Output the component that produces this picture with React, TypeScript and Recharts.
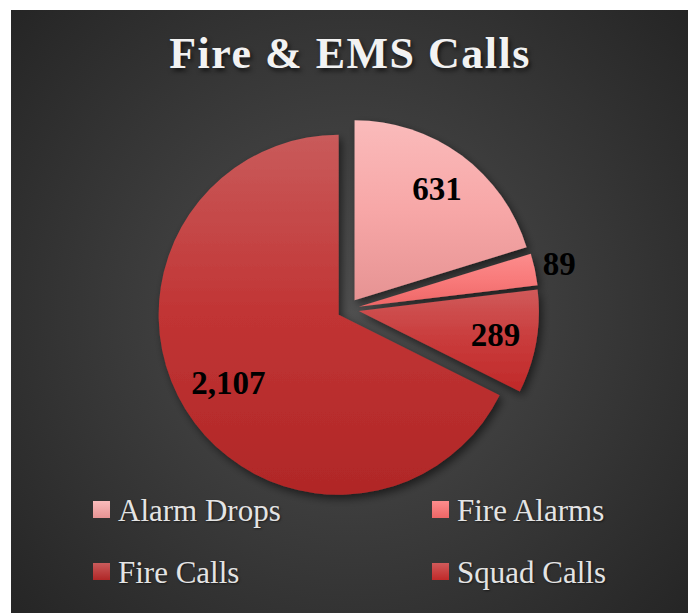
import React from 'react';
import { PieChart, Pie, Cell, Legend } from 'recharts';

const categories = ['Alarm Drops', 'Fire Alarms', 'Squad Calls', 'Fire Calls'];
const calls = [631, 89, 289, 2107];
const legendOrder = ['Alarm Drops', 'Fire Alarms', 'Fire Calls', 'Squad Calls'];

// top / middle / bottom tones for each slice gradient
const sliceTones = [
  ['#fabbbb', '#f7a7a7', '#e69393'],
  ['#fc8d8d', '#f87a7a', '#ee6666'],
  ['#d05a5a', '#c93b3b', '#c02929'],
  ['#c95b5b', '#c13434', '#b02727'],
];

const W = 678;
const H = 605;
const EXPLODE = 11;
const RADIAN = Math.PI / 180;

const data = categories.map((name, i) => ({ name, value: calls[i] }));
const total = calls.reduce((a, b) => a + b, 0);

// push every slice out along its own middle angle (pie starts at 12 o'clock, clockwise)
let running = 0;
const shifts = calls.map((v) => {
  const mid = ((running + v / 2) / total) * 2 * Math.PI;
  running += v;
  return { dx: EXPLODE * Math.sin(mid), dy: -EXPLODE * Math.cos(mid) };
});

const renderLabel = (props: any) => {
  const { cx, cy, midAngle, outerRadius, percent, value } = props;
  let r = outerRadius * 0.77 + EXPLODE;
  if (percent < 0.05) r = outerRadius + 36;
  else if (percent > 0.5) r = outerRadius * 0.72 + EXPLODE;
  const x = cx + r * Math.cos(-midAngle * RADIAN);
  const y = cy + r * Math.sin(-midAngle * RADIAN);
  return (
    <text
      x={x}
      y={y}
      textAnchor="middle"
      dominantBaseline="central"
      fill="#000"
      fontFamily="'Liberation Serif', serif"
      fontWeight="bold"
      fontSize={33}
    >
      {Number(value).toLocaleString('en-US')}
    </text>
  );
};

const LegendGrid = (props: any) => {
  const names: string[] = (props.payload || []).map((p: any) => p.value);
  const ordered = legendOrder.filter((n) => names.includes(n));
  return (
    <div
      style={{
        display: 'grid',
        gridTemplateColumns: '339px 339px',
        rowGap: 28,
      }}
    >
      {ordered.map((name) => {
        const tones = sliceTones[categories.indexOf(name)];
        return (
          <div key={name} style={{ display: 'flex', alignItems: 'center', height: 34, paddingLeft: 82 }}>
            <span
              style={{
                width: 17,
                height: 17,
                marginRight: 8,
                background: `linear-gradient(to bottom, ${tones[0]}, ${tones[2]})`,
              }}
            />
            <span
              style={{
                fontFamily: "'Liberation Serif', serif",
                fontSize: 31,
                lineHeight: '34px',
                paddingTop: 3,
                color: '#e4e4e4',
                textShadow: '1px 1px 2px rgba(0,0,0,0.5)',
              }}
            >
              {name}
            </span>
          </div>
        );
      })}
    </div>
  );
};

export default function App() {
  return (
    <div
      style={{
        position: 'relative',
        width: W,
        height: H,
        marginLeft: 3,
        marginTop: 2,
        background: 'radial-gradient(circle at 50% 50%, #4f4f4f 0%, #3c3c3c 45%, #252525 100%)',
      }}
    >
      <div
        style={{
          position: 'absolute',
          top: 22,
          left: 0,
          width: W,
          textAlign: 'center',
          fontFamily: "'Liberation Serif', serif",
          fontWeight: 'bold',
          fontSize: 44,
          lineHeight: '44px',
          letterSpacing: 1.5,
          color: '#f2f2f2',
          textShadow: '2px 3px 4px rgba(0,0,0,0.6)',
          zIndex: 1,
        }}
      >
        Fire &amp; EMS Calls
      </div>
      <PieChart width={W} height={H} margin={{ top: 0, right: 0, bottom: 0, left: 0 }}>
        <defs>
          {sliceTones.map((t, i) => (
            <linearGradient key={i} id={`slice${i}`} x1="0" y1="0" x2="0" y2="1">
              <stop offset="0%" stopColor={t[0]} />
              <stop offset="50%" stopColor={t[1]} />
              <stop offset="100%" stopColor={t[2]} />
            </linearGradient>
          ))}
          <filter id="sliceShadow" x="-20%" y="-20%" width="140%" height="140%">
            <feDropShadow dx="3" dy="4" stdDeviation="4" floodColor="#000" floodOpacity="0.55" />
          </filter>
        </defs>
        <Pie
          data={data}
          dataKey="value"
          nameKey="name"
          cx={337}
          cy={299}
          outerRadius={180}
          startAngle={90}
          endAngle={-270}
          stroke="none"
          label={renderLabel}
          labelLine={false}
          isAnimationActive={false}
        >
          {data.map((d, i) => (
            <Cell
              key={d.name}
              fill={`url(#slice${i})`}
              transform={`translate(${shifts[i].dx} ${shifts[i].dy})`}
              filter="url(#sliceShadow)"
            />
          ))}
        </Pie>
        <Legend
          content={<LegendGrid />}
          wrapperStyle={{ left: 0, top: 482, width: W }}
        />
      </PieChart>
    </div>
  );
}
